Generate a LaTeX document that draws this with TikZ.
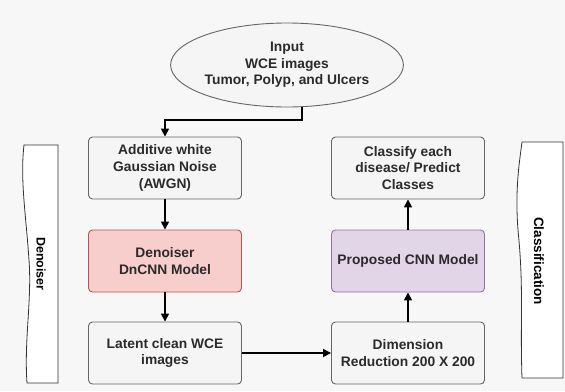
\documentclass[tikz,border=0pt]{standalone}
\usepackage{fontspec}
\setmainfont{Liberation Sans}
\usetikzlibrary{shapes.geometric,arrows.meta}
\definecolor{bgc}{HTML}{F7F7F7}
\definecolor{boxfill}{HTML}{F5F5F5}
\definecolor{boxline}{HTML}{666666}
\definecolor{txt}{HTML}{2B2B2B}
\definecolor{redfill}{HTML}{F8CECC}
\definecolor{redline}{HTML}{B85450}
\definecolor{purfill}{HTML}{E1D5E7}
\definecolor{purline}{HTML}{9673A6}
\tikzset{
  flowbox/.style={draw=boxline, fill=boxfill, rounded corners=4pt, line width=0.9pt,
    minimum width=153pt, minimum height=62pt, align=center, text=txt,
    font=\fontsize{13.8}{16.6}\selectfont\bfseries, inner sep=1pt},
  redbox/.style={flowbox, draw=redline, fill=redfill},
  purbox/.style={flowbox, draw=purline, fill=purfill},
  flowarrow/.style={-{Triangle[length=8pt,width=8pt]}, line width=1.6pt, black},
  sidelabel/.style={rotate=-90, text=black, inner sep=0pt},
  bracketline/.style={draw=black!80, fill=white, line width=0.8pt}
}
\begin{document}
\begin{tikzpicture}[x=1pt,y=-1pt]
  \fill[bgc] (0,0) rectangle (565,391);
  \useasboundingbox (0,0) rectangle (565,391);

  % input ellipse
  \node[ellipse, draw=boxline, fill=boxfill, line width=0.9pt, minimum width=219pt,
        minimum height=84pt, align=center, text=txt, inner sep=0pt,
        font=\fontsize{13.8}{16.6}\selectfont\bfseries] (input) at (287,65)
        {Input\\WCE images\\Tumor, Polyp, and Ulcers};

  % left column
  \node[flowbox] (awgn) at (165,168) {Additive white\\Gaussian Noise\\(AWGN)};
  \node[redbox] (dncnn) at (165,261) {Denoiser\\DnCNN Model};
  \node[flowbox] (latent) at (165,353) {Latent clean WCE\\images};

  % right column
  \node[flowbox] (classify) at (408,168) {Classify each\\disease/ Predict\\Classes};
  \node[purbox] (cnn) at (408,261) {Proposed CNN Model};
  \node[flowbox] (dimred) at (408,353) {Dimension\\Reduction 200 X 200};

  % connectors
  \coordinate (bendA) at (302,120);
  \coordinate (bendB) at (165,120);
  \draw[flowarrow] (input.south -| bendA) -- (bendA) -- (bendB) -- (awgn.north);
  \draw[flowarrow] (awgn) -- (dncnn);
  \draw[flowarrow] (dncnn) -- (latent);
  \draw[flowarrow] (latent) -- (dimred);
  \draw[flowarrow] (dimred) -- (cnn);
  \draw[flowarrow] (cnn) -- (classify);

  % side brackets with wavy edge
  \draw[bracketline] (24,145) -- (58,145) -- (58,383) -- (27,383)
     .. controls (24,340) and (32,300) .. (29,260)
     .. controls (26,215) and (20,180) .. (24,145) -- cycle;
  \node[sidelabel, font=\fontsize{12.5}{14}\selectfont\bfseries] (lblden) at (41,264) {Denoiser};

  \draw[bracketline] (522,142) -- (563,142) -- (563,378) -- (522,378)
     .. controls (520,320) and (524,290) .. (518,230)
     .. controls (515,190) and (519,165) .. (522,142) -- cycle;
  \node[sidelabel, font=\fontsize{13.5}{15}\selectfont\bfseries] (lblcls) at (539,261) {Classification};
\end{tikzpicture}
\end{document}
